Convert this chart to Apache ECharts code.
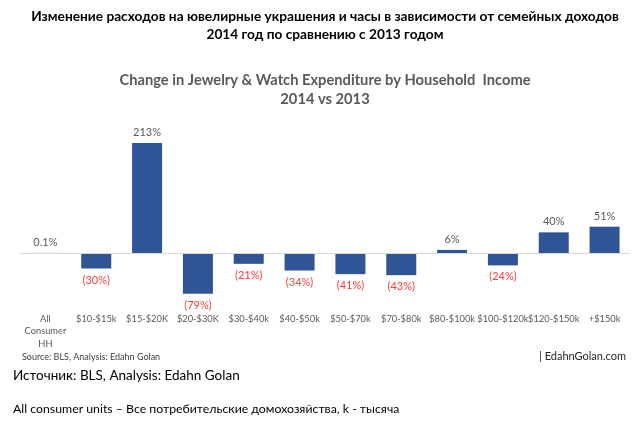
<!DOCTYPE html>
<html>
<head>
<meta charset="utf-8">
<script src="https://cdn.jsdelivr.net/npm/echarts@6/dist/echarts.min.js"></script>
<style>
html,body{margin:0;padding:0;background:#fff;}
#chart{width:637px;height:426px;}
</style>
</head>
<body>
<div id="chart"></div>
<script>
const categories = ['All\nConsumer\nHH', '$10-$15k', '$15-$20K', '$20-$30K', '$30-$40k', '$40-$50k', '$50-$70k', '$70-$80k', '$80-$100k', '$100-$120k', '$120-$150k', '+$150k'];
const changePct = [0.1, -30, 213, -79, -21, -34, -41, -43, 6, -24, 40, 51];

const titleRu = ['Изменение расходов на ювелирные украшения и часы в зависимости от семейных доходов', '2014 год по сравнению с 2013 годом'];
const titleEn = ['Change in Jewelry & Watch Expenditure by Household  Income', '2014 vs 2013'];
const sourceEn = 'Source: BLS, Analysis: Edahn Golan';
const siteText = '| EdahnGolan.com';
const sourceRu = 'Источник: BLS, Analysis: Edahn Golan';
const noteRu = 'All consumer units – Все потребительские домохозяйства, k - тысяча';

const FONT = 'Lato, "Open Sans", sans-serif';

function fmt(v) {
  const a = Math.abs(v);
  const s = (Number.isInteger(a) ? a.toFixed(0) : a.toFixed(1)) + '%';
  return v < 0 ? '(' + s + ')' : s;
}

const barData = changePct.map(v => ({
  value: v,
  label: v < 0
    ? { position: 'bottom', distance: 6, color: '#FF3B3B' }
    : { position: 'top', distance: 5, color: '#595959' }
}));

const chart = echarts.init(document.getElementById('chart'), null, { renderer: 'canvas' });
chart.setOption({
  backgroundColor: '#ffffff',
  animation: false,
  grid: { left: 20, right: 7, top: 124, bottom: 121.4, containLabel: false },
  xAxis: {
    type: 'category',
    data: categories,
    position: 'bottom',
    axisLine: { show: false },
    axisTick: { show: false },
    axisLabel: {
      interval: 0, margin: 8, color: '#595959', fontSize: 9.3,
      fontFamily: FONT, lineHeight: 12.5
    }
  },
  yAxis: {
    type: 'value', min: -100, max: 250, interval: 50,
    show: false, splitLine: { show: false }
  },
  series: [{
    type: 'bar',
    data: barData,
    barWidth: 30,
    itemStyle: { color: '#2F5597' },
    label: {
      show: true, fontSize: 11, fontFamily: FONT,
      formatter: p => fmt(p.value)
    },
    markLine: {
      silent: true, symbol: 'none', label: { show: false },
      lineStyle: { color: '#D9D9D9', width: 1, type: 'solid' },
      data: [{ yAxis: 0 }]
    }
  }],
  graphic: [
    { type: 'text', x: 325, y: 17, style: { text: titleRu[0], font: 'bold 13.7px ' + FONT, fill: '#000', align: 'center', verticalAlign: 'middle' } },
    { type: 'text', x: 325, y: 35, style: { text: titleRu[1], font: 'bold 13.7px ' + FONT, fill: '#000', align: 'center', verticalAlign: 'middle' } },
    { type: 'text', x: 325, y: 80, style: { text: titleEn[0], font: 'bold 14.7px ' + FONT, fill: '#595959', align: 'center', verticalAlign: 'middle' } },
    { type: 'text', x: 325, y: 99, style: { text: titleEn[1], font: 'bold 14.7px ' + FONT, fill: '#595959', align: 'center', verticalAlign: 'middle' } },
    { type: 'text', x: 22, y: 357, style: { text: sourceEn, font: '9px ' + FONT, fill: '#404040', align: 'left', verticalAlign: 'middle' } },
    { type: 'text', x: 626, y: 356, style: { text: siteText, font: '11px ' + FONT, fill: '#262626', align: 'right', verticalAlign: 'middle' } },
    { type: 'text', x: 13, y: 376, style: { text: sourceRu, font: '13.5px ' + FONT, fill: '#000', align: 'left', verticalAlign: 'middle' } },
    { type: 'text', x: 13, y: 409, style: { text: noteRu, font: '12.3px ' + FONT, fill: '#000', align: 'left', verticalAlign: 'middle' } }
  ]
});
</script>
</body>
</html>
